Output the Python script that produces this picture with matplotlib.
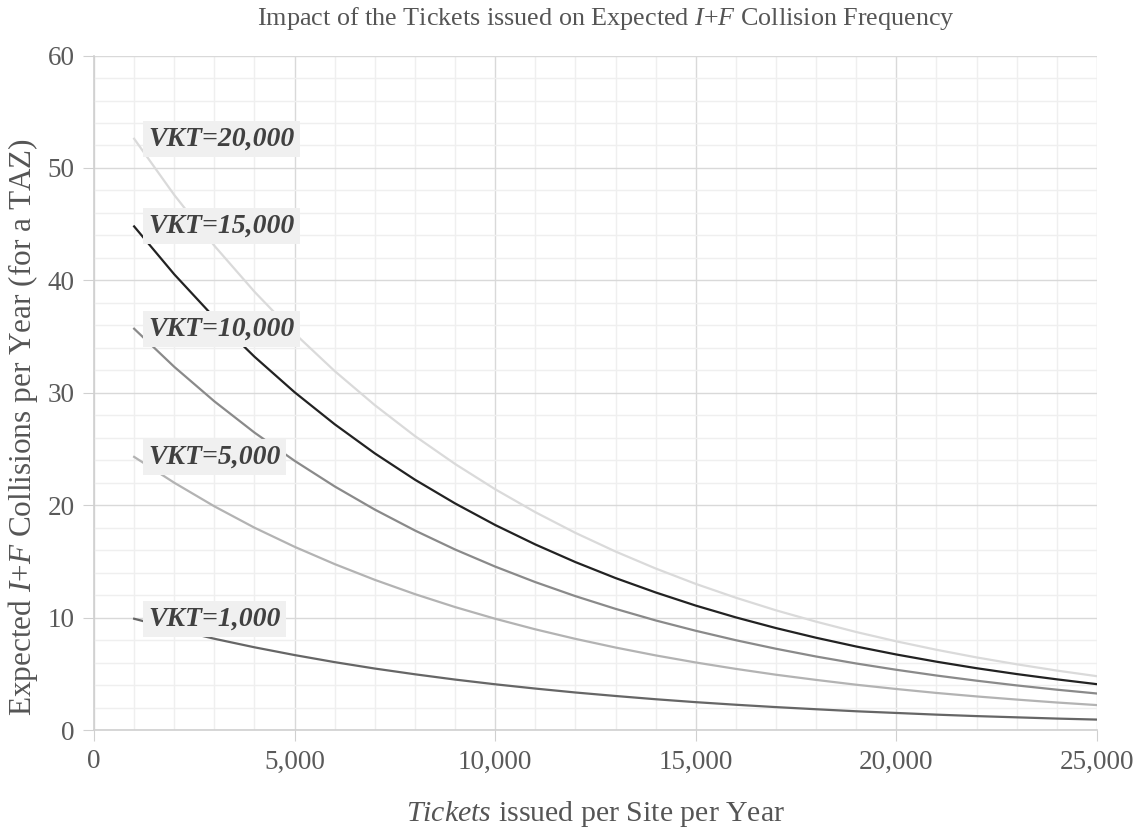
import numpy as np
import matplotlib
matplotlib.use("Agg")
import matplotlib.pyplot as plt
from matplotlib.ticker import MultipleLocator, FuncFormatter

plt.rcParams['font.family'] = 'Liberation Serif'
plt.rcParams['mathtext.fontset'] = 'custom'
plt.rcParams['mathtext.rm'] = 'Liberation Serif'
plt.rcParams['mathtext.it'] = 'Liberation Serif:italic'

# tickets issued per site per year
tickets = list(range(1000, 26000, 1000))

# expected I+F collisions per year
vkt_20000 = [52.6, 47.6, 43.08, 38.99, 35.28, 31.93, 28.9, 26.15, 23.67, 21.42, 19.38, 17.54, 15.88,
             14.37, 13.0, 11.77, 10.65, 9.64, 8.72, 7.89, 7.14, 6.46, 5.85, 5.29, 4.79]
vkt_15000 = [44.8, 40.54, 36.69, 33.21, 30.05, 27.2, 24.61, 22.27, 20.16, 18.24, 16.51, 14.94, 13.52,
             12.24, 11.07, 10.02, 9.07, 8.21, 7.43, 6.72, 6.08, 5.5, 4.98, 4.51, 4.08]
vkt_10000 = [35.7, 32.31, 29.24, 26.46, 23.95, 21.67, 19.61, 17.75, 16.06, 14.54, 13.16, 11.91, 10.78,
             9.75, 8.83, 7.99, 7.23, 6.54, 5.92, 5.36, 4.85, 4.39, 3.97, 3.59, 3.25]
vkt_5000 = [24.3, 22.0, 19.9, 18.0, 16.3, 14.76, 13.36, 12.09, 10.94, 9.9, 8.96, 8.11, 7.34,
            6.64, 6.01, 5.44, 4.92, 4.46, 4.03, 3.65, 3.3, 2.99, 2.71, 2.45, 2.22]
vkt_1000 = [9.9, 8.97, 8.12, 7.36, 6.67, 6.04, 5.47, 4.96, 4.49, 4.07, 3.69, 3.34, 3.03,
            2.74, 2.48, 2.25, 2.04, 1.85, 1.67, 1.52, 1.37, 1.24, 1.13, 1.02, 0.93]

labels = ["VKT=20,000", "VKT=15,000", "VKT=10,000", "VKT=5,000", "VKT=1,000"]
series = [vkt_20000, vkt_15000, vkt_10000, vkt_5000, vkt_1000]
colors = ["#dadada", "#222222", "#8a8a8a", "#b3b3b3", "#666666"]

fig = plt.figure(figsize=(11.41, 8.33), dpi=100)
ax = fig.add_axes([0.0824, 0.1236, 0.879, 0.8097])

for s, c in zip(series, colors):
    ax.plot(tickets, s, color=c, lw=1.6, zorder=3)

for lab, s in zip(labels, series):
    ax.text(1350, s[0], lab, fontsize=20, fontweight='bold', style='italic',
            color='#404040', va='center', ha='left', zorder=5,
            bbox=dict(boxstyle='square,pad=0.2', fc='#f0f0f0', ec='none'))

ax.set_xlim(0, 25000)
ax.set_ylim(0, 60)
ax.xaxis.set_major_locator(MultipleLocator(5000))
ax.xaxis.set_minor_locator(MultipleLocator(1000))
ax.yaxis.set_major_locator(MultipleLocator(10))
ax.yaxis.set_minor_locator(MultipleLocator(2))
ax.xaxis.set_major_formatter(FuncFormatter(lambda v, p: "{:,.0f}".format(v)))

ax.grid(which='major', color='#d9d9d9', lw=1)
ax.grid(which='minor', color='#efefef', lw=1)
ax.set_axisbelow(True)

for side in ['top', 'right']:
    ax.spines[side].set_visible(False)
for side in ['left', 'bottom']:
    ax.spines[side].set_color('#d0d0d0')
    ax.spines[side].set_linewidth(1.2)

ax.tick_params(which='major', length=8, color='#d0d0d0', labelsize=19.5,
               labelcolor='#5a5a5a', pad=6)
ax.tick_params(which='minor', length=0)

ax.set_title(r"Impact of the Tickets issued on Expected $\mathit{I}$+$\mathit{F}$ Collision Frequency",
             fontsize=18.8, color='#555555', pad=22, x=0.51)
ax.set_xlabel(r"$\mathit{Tickets}$ issued per Site per Year", fontsize=21.5, color='#555555', labelpad=18)
ax.set_ylabel(r"Expected $\mathit{I}$+$\mathit{F}$ Collisions per Year (for a TAZ)", fontsize=22.5,
              color='#555555')
ax.yaxis.set_label_coords(-0.054, 0.449)

fig.savefig("out.png", dpi=100)
